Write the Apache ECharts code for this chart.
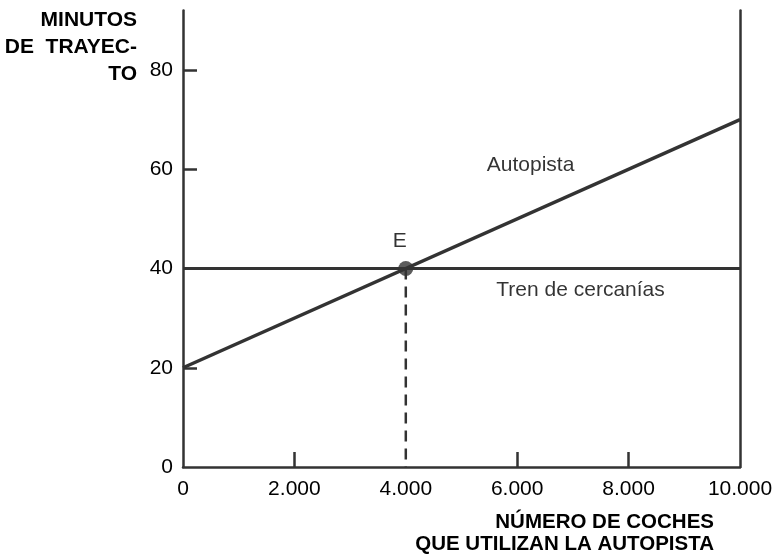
<!DOCTYPE html>
<html><head><meta charset="utf-8">
<script src="https://cdn.jsdelivr.net/npm/echarts@6/dist/echarts.min.js"></script>
<style>html,body{margin:0;padding:0;background:#fff}#c{width:777px;height:555px}</style>
</head><body><div id="c"></div>
<script>
var xTicks = [0, 2000, 4000, 6000, 8000, 10000];
var yTicks = [0, 20, 40, 60, 80];
var autopista = [[0, 20], [10000, 70]];
var tren = [[0, 40], [10000, 40]];
var equilibrium = [[4000, 40]];
var dropLine = [[4000, 40], [4000, 0]];
var textLabels = [
  {value: [6240, 60.9], text: 'Autopista'},
  {value: [7137, 35.6], text: 'Tren de cercanías'}
];
var C = '#333333';
var FF = '"Liberation Sans", Arial, Helvetica, sans-serif';
var chart = echarts.init(document.getElementById('c'));
function fmt(v){ return String(v).replace(/\B(?=(\d{3})+(?!\d))/g, '.'); }
chart.setOption({
  animation: false,
  grid: {left: 183, right: 37, top: 10.5, bottom: 88},
  xAxis: {
    type: 'value', min: 0, max: 10000, interval: 2000,
    axisLine: {lineStyle: {color: C, width: 2.5}},
    axisTick: {inside: true, length: 15, lineStyle: {color: C, width: 2.5}, customValues: [2000, 6000, 8000]},
    axisLabel: {color: '#000', fontSize: 21, margin: 12, fontFamily: FF, formatter: fmt, customValues: xTicks},
    splitLine: {show: false}
  },
  yAxis: [{
    type: 'value', min: 0, max: 92, interval: 20,
    axisLine: {show: true, lineStyle: {color: C, width: 2.5}},
    axisTick: {show: true, inside: true, length: 14, lineStyle: {color: C, width: 2.5}, customValues: [20, 40, 60, 80]},
    axisLabel: {color: '#000', fontSize: 21, margin: 10, fontFamily: FF, customValues: yTicks},
    splitLine: {show: false}
  }, {
    type: 'value', min: 0, max: 92, position: 'right',
    axisLine: {show: true, lineStyle: {color: C, width: 2.5}},
    axisTick: {show: false}, axisLabel: {show: false}, splitLine: {show: false}
  }],
  series: [
    {type: 'line', data: tren, symbol: 'none', lineStyle: {color: C, width: 3}, z: 3},
    {type: 'line', data: autopista, symbol: 'none', lineStyle: {color: C, width: 3.5}, z: 3},
    {type: 'line', data: dropLine, symbol: 'none', lineStyle: {color: C, width: 2.5, type: [11, 7]}, z: 2},
    {type: 'scatter', data: equilibrium, symbol: 'circle', symbolSize: 15, itemStyle: {color: C}, z: 5,
      label: {show: true, position: 'top', distance: 9, offset: [-6, 0], formatter: 'E', color: '#000', fontSize: 21, fontFamily: FF}},
    {type: 'scatter', symbolSize: 0, silent: true,
      data: textLabels.map(function(d){ return {value: d.value, name: d.text}; }),
      label: {show: true, position: 'inside', formatter: '{b}', color: '#000', fontSize: 21, fontFamily: FF}}
  ],
  graphic: [
    {type: 'text', x: 137, y: 7, style: {text: 'MINUTOS\nDE  TRAYEC-\nTO', align: 'right', verticalAlign: 'top', lineHeight: 27, fill: '#000', font: 'bold 21px ' + FF}},
    {type: 'text', x: 714, y: 511, style: {text: 'NÚMERO DE COCHES\nQUE UTILIZAN LA AUTOPISTA', align: 'right', verticalAlign: 'top', lineHeight: 22, fill: '#000', font: 'bold 20.5px ' + FF}}
  ]
});
</script></body></html>
